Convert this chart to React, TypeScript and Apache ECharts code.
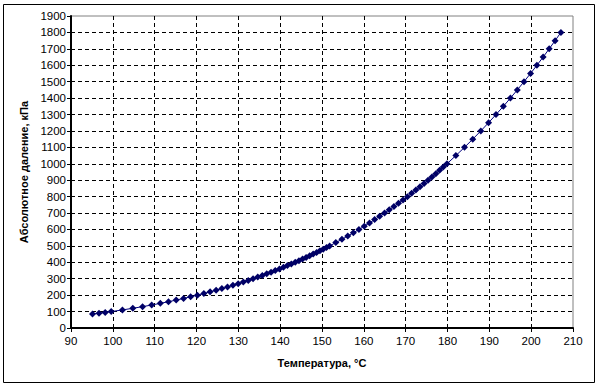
import React, { useEffect, useRef } from "react";
import * as echarts from "echarts";

// Absolute pressure, kPa
const pressures: number[] = [
  85, 90, 95, 100,
  110, 120, 130, 140, 150, 160, 170, 180, 190, 200,
  210, 220, 230, 240, 250, 260, 270, 280, 290, 300,
  310, 320, 330, 340, 350, 360, 370, 380, 390, 400,
  410, 420, 430, 440, 450, 460, 470, 480, 490, 500,
  520, 540, 560, 580, 600, 620, 640, 660, 680, 700,
  720, 740, 760, 780, 800, 820, 840, 860, 880, 900,
  920, 940, 960, 980, 1000,
  1050, 1100, 1150, 1200, 1250, 1300, 1350, 1400, 1450, 1500,
  1550, 1600, 1650, 1700, 1750, 1800,
];

// Temperature, °C for each point
const temperatures: number[] = [
  95.14, 96.69, 98.17, 99.61,
  102.29, 104.78, 107.11, 109.29, 111.35, 113.3, 115.15, 116.91, 118.6, 120.21,
  121.76, 123.25, 124.69, 126.07, 127.41, 128.71, 129.97, 131.19, 132.37, 133.52,
  134.64, 135.73, 136.79, 137.82, 138.83, 139.82, 140.78, 141.72, 142.66, 143.61,
  144.49, 145.36, 146.21, 147.05, 147.9, 148.71, 149.51, 150.29, 151.07, 151.83,
  153.3, 154.76, 156.15, 157.5, 158.83, 160.1, 161.36, 162.58, 163.78, 164.95,
  166.08, 167.2, 168.29, 169.36, 170.41, 171.43, 172.44, 173.43, 174.4, 175.35,
  176.28, 177.2, 178.1, 178.99, 179.88,
  182.0, 184.06, 186.04, 187.96, 189.81, 191.6, 193.35, 195.04, 196.69, 198.29,
  199.85, 201.37, 202.86, 204.31, 205.72, 207.11,
];

const xTitle = "Температура, °С";
const yTitle = "Абсолютное даление, кПа";

export default function App() {
  const ref = useRef<HTMLDivElement>(null);
  useEffect(() => {
    document.body.style.margin = "0";
    if (!ref.current) return;
    const chart = echarts.init(ref.current, undefined, { renderer: "svg" });
    const data = temperatures.map((t, i) => [t, pressures[i]]);
    const font = "'Liberation Sans', Arial, sans-serif";
    chart.setOption({
      animation: false,
      backgroundColor: "#ffffff",
      graphic: [
        {
          type: "rect",
          shape: { x: 3.5, y: 4.5, width: 591, height: 378 },
          style: { fill: "none", stroke: "#000", lineWidth: 1 },
          silent: true,
        },
      ],
      grid: {
        left: 71,
        top: 16,
        width: 502,
        height: 312,
        show: true,
        borderColor: "#808080",
        borderWidth: 1,
        backgroundColor: "#fff",
      },
      xAxis: {
        type: "value",
        min: 90,
        max: 210,
        interval: 10,
        name: xTitle,
        nameLocation: "middle",
        nameGap: 29,
        nameTextStyle: { fontFamily: font, fontSize: 11, fontWeight: "bold", color: "#000" },
        axisLine: { show: true, onZero: false, lineStyle: { color: "#000", width: 2 } },
        axisTick: { show: true, inside: false, length: 4, lineStyle: { color: "#000" } },
        axisLabel: {
          fontFamily: font,
          fontSize: 11.5,
          color: "#000",
          margin: 7,
          formatter: (v: number) => String(v),
        },
        splitLine: {
          show: true,
          showMinLine: false,
          showMaxLine: false,
          lineStyle: { color: "#000", type: [4, 3], width: 1 },
        },
      },
      yAxis: {
        type: "value",
        min: 0,
        max: 1900,
        interval: 100,
        name: yTitle,
        nameLocation: "middle",
        nameRotate: 90,
        nameGap: 38,
        nameTextStyle: { fontFamily: font, fontSize: 11, fontWeight: "bold", color: "#000" },
        axisLine: { show: true, onZero: false, lineStyle: { color: "#000", width: 2 } },
        axisTick: { show: true, inside: false, length: 4, lineStyle: { color: "#000" } },
        axisLabel: {
          fontFamily: font,
          fontSize: 11.5,
          color: "#000",
          margin: 5,
          formatter: (v: number) => String(v),
        },
        splitLine: {
          show: true,
          showMinLine: false,
          showMaxLine: false,
          lineStyle: { color: "#000", type: [4, 3], width: 1 },
        },
      },
      series: [
        {
          type: "line",
          data,
          symbol: "diamond",
          symbolSize: 7,
          showAllSymbol: true,
          lineStyle: { color: "#000080", width: 1 },
          itemStyle: { color: "#000066" },
        },
      ],
    });
    return () => chart.dispose();
  }, []);
  return <div ref={ref} style={{ width: 602, height: 391 }} />;
}
